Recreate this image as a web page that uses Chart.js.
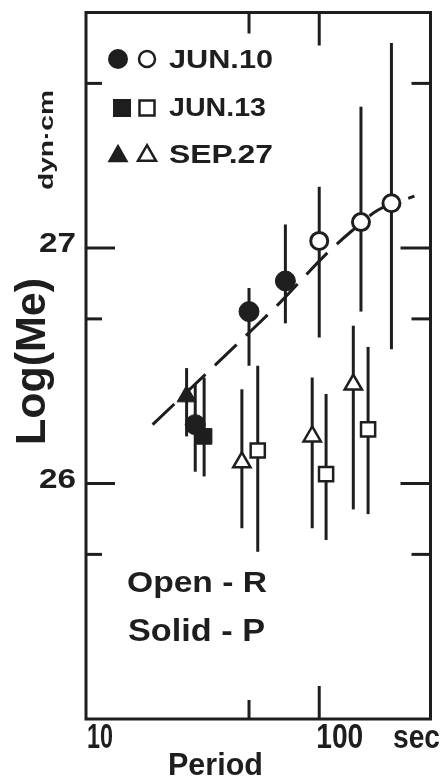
<!DOCTYPE html>
<html>
<head>
<meta charset="utf-8">
<title>Log(Me) vs Period</title>
<script src="https://cdn.jsdelivr.net/npm/chart.js@4.4.0/dist/chart.umd.min.js"></script>
<style>
  html, body { margin: 0; padding: 0; background: #fff; }
  canvas { display: block; }
</style>
</head>
<body>
<canvas id="chart" width="443" height="778"></canvas>
<script>
// Moment estimates log10(Me) [dyn·cm] against period [sec].
// Solid marks come from P, open marks from R.

const jun10SolidPeriod = [29.4, 50, 71.6];
const jun10SolidLogMe = [26.25, 26.73, 26.86];
const jun10SolidLow = [26.05, 26.50, 26.68];
const jun10SolidHigh = [26.42, 26.83, 27.10];

const jun10OpenPeriod = [100, 151, 204];
const jun10OpenLogMe = [27.03, 27.11, 27.19];
const jun10OpenLow = [26.62, 26.73, 26.57];
const jun10OpenHigh = [27.26, 27.60, 27.87];

const jun13SolidPeriod = [32.1];
const jun13SolidLogMe = [26.20];
const jun13SolidLow = [26.03];
const jun13SolidHigh = [26.45];

const jun13OpenPeriod = [54.5, 107, 162];
const jun13OpenLogMe = [26.14, 26.04, 26.23];
const jun13OpenLow = [25.71, 25.76, 25.87];
const jun13OpenHigh = [26.50, 26.38, 26.58];

const sep27SolidPeriod = [27.0];
const sep27SolidLogMe = [26.37];
const sep27SolidLow = [26.20];
const sep27SolidHigh = [26.49];

const sep27OpenPeriod = [46.6, 93.3, 140];
const sep27OpenLogMe = [26.09, 26.20, 26.42];
const sep27OpenLow = [25.81, 25.81, 25.89];
const sep27OpenHigh = [26.40, 26.45, 26.67];

// dashed curve through the JUN.10 estimates
const trendPeriod = [19.3, 47.6, 68.2, 106, 137, 178, 256];
const trendLogMe = [26.25, 26.62, 26.77, 26.97, 27.07, 27.16, 27.22];

// axis ticks and labels
const xMajorTicks = [100];
const xMinorTicks = [50];
const xLabelValues = [10, 100];
const xLabelText = ['10', '100'];
const yMajorTicks = [26, 27];
const yMinorTicks = [25.699, 26.699, 27.699];
const yLabelValues = [26, 27];
const yLabelText = ['26', '27'];

const legendLabels = ['JUN.10', 'JUN.13', 'SEP.27'];
const legendShapes = ['circle', 'rect', 'triangle'];
const noteLines = ['Open - R', 'Solid - P'];

const INK = '#1e1e1e';
const FONT = '"Liberation Sans", Arial, sans-serif';

function toPoints(xs, ys) {
  return xs.map((x, i) => ({ x: x, y: ys[i] }));
}

// Bold text squeezed or stretched to a given width, cap height sets the size
function fittedText(ctx, str, x, y, capHeight, width, align, angle) {
  const size = capHeight / 0.72;
  ctx.save();
  ctx.font = `bold ${size}px ${FONT}`;
  const natural = ctx.measureText(str).width;
  ctx.translate(x, y);
  if (angle) ctx.rotate(angle);
  ctx.scale(width / natural, 1);
  ctx.textAlign = align || 'left';
  ctx.textBaseline = 'alphabetic';
  ctx.fillStyle = INK;
  ctx.fillText(str, 0, 0);
  ctx.restore();
}

function legendMark(ctx, shape, filled, cx, cy, size) {
  ctx.save();
  ctx.beginPath();
  if (shape === 'circle') {
    ctx.arc(cx, cy, size / 2, 0, Math.PI * 2);
  } else if (shape === 'rect') {
    ctx.rect(cx - size / 2, cy - size / 2, size, size);
  } else {
    const h = size * 0.87;
    ctx.moveTo(cx, cy - h / 2);
    ctx.lineTo(cx + size / 2, cy + h / 2);
    ctx.lineTo(cx - size / 2, cy + h / 2);
    ctx.closePath();
  }
  if (filled) {
    ctx.fillStyle = INK;
    ctx.fill();
  } else {
    ctx.fillStyle = '#fff';
    ctx.fill();
    ctx.lineWidth = 2.5;
    ctx.strokeStyle = INK;
    ctx.stroke();
  }
  ctx.restore();
}

const errorSets = [
  [jun10SolidPeriod, jun10SolidLow, jun10SolidHigh],
  [jun10OpenPeriod, jun10OpenLow, jun10OpenHigh],
  [jun13SolidPeriod, jun13SolidLow, jun13SolidHigh],
  [jun13OpenPeriod, jun13OpenLow, jun13OpenHigh],
  [sep27SolidPeriod, sep27SolidLow, sep27SolidHigh],
  [sep27OpenPeriod, sep27OpenLow, sep27OpenHigh]
];

const errorBarsPlugin = {
  id: 'errorBars',
  beforeDatasetsDraw(chart) {
    const { ctx, scales: { x, y } } = chart;
    ctx.save();
    ctx.strokeStyle = INK;
    ctx.lineWidth = 3;
    errorSets.forEach(([periods, lows, highs]) => {
      periods.forEach((p, i) => {
        const px = x.getPixelForValue(p);
        ctx.beginPath();
        ctx.moveTo(px, y.getPixelForValue(lows[i]));
        ctx.lineTo(px, y.getPixelForValue(highs[i]));
        ctx.stroke();
      });
    });
    ctx.restore();
  }
};

const framePlugin = {
  id: 'frame',
  afterDatasetsDraw(chart) {
    const { ctx, chartArea: a, scales: { x, y } } = chart;
    ctx.save();
    ctx.strokeStyle = INK;
    ctx.lineWidth = 3;
    ctx.strokeRect(a.left, a.top, a.right - a.left, a.bottom - a.top);

    // tick marks on all four sides
    const tick = (x1, y1, x2, y2) => {
      ctx.beginPath();
      ctx.moveTo(x1, y1);
      ctx.lineTo(x2, y2);
      ctx.stroke();
    };
    xMajorTicks.forEach(v => {
      const px = x.getPixelForValue(v);
      tick(px, a.bottom, px, a.bottom - 33);
      tick(px, a.top, px, a.top + 33);
    });
    xMinorTicks.forEach(v => {
      const px = x.getPixelForValue(v);
      tick(px, a.bottom, px, a.bottom - 19);
      tick(px, a.top, px, a.top + 21);
    });
    yMajorTicks.forEach(v => {
      const py = y.getPixelForValue(v);
      tick(a.left, py, a.left + 29, py);
      tick(a.right, py, a.right - 30, py);
    });
    yMinorTicks.forEach(v => {
      const py = y.getPixelForValue(v);
      tick(a.left, py, a.left + 16, py);
      tick(a.right, py, a.right - 19, py);
    });
    ctx.restore();

    // tick labels
    xLabelValues.forEach((v, i) => {
      const px = x.getPixelForValue(v);
      fittedText(ctx, xLabelText[i], px + (i === 0 ? 1 : -3), 748, 25, i === 0 ? 26 : 47, 'left');
    });
    fittedText(ctx, 'sec', 393, 748, 24, 47, 'left');
    yLabelValues.forEach((v, i) => {
      const py = y.getPixelForValue(v);
      fittedText(ctx, yLabelText[i], 76, py + 4, 20, 37, 'right');
    });

    // axis titles
    fittedText(ctx, 'Period', 168, 775, 22, 95, 'left');
    fittedText(ctx, 'Log(Me)', 45, 445, 30, 167, 'left', -Math.PI / 2);
    fittedText(ctx, 'dyn·cm', 53, 190, 15, 100, 'left', -Math.PI / 2);

    // legend
    const rowsY = [59, 108, 153];
    const rowsBase = [68, 116, 163];
    legendLabels.forEach((label, i) => {
      const shape = legendShapes[i];
      const solidSize = shape === 'circle' ? 20 : shape === 'rect' ? 18 : 21;
      const openSize = shape === 'circle' ? 16 : shape === 'rect' ? 15 : 18;
      legendMark(ctx, shape, true, shape === 'rect' ? 122 : 118, rowsY[i], solidSize);
      legendMark(ctx, shape, false, 147, rowsY[i], openSize);
      fittedText(ctx, label, 169, rowsBase[i], 18, i === 1 ? 97 : 104, 'left');
    });

    // notes
    fittedText(ctx, noteLines[0], 127, 592, 21, 140, 'left');
    fittedText(ctx, noteLines[1], 128, 641, 22, 137, 'left');
  }
};

const solid = { backgroundColor: INK, borderColor: INK, borderWidth: 1 };
const open = { backgroundColor: '#fff', borderColor: INK, borderWidth: 2.5 };

new Chart(document.getElementById('chart'), {
  type: 'scatter',
  data: {
    datasets: [
      {
        type: 'line',
        label: 'trend',
        data: toPoints(trendPeriod, trendLogMe),
        borderColor: INK,
        borderWidth: 3,
        borderDash: [30, 13],
        pointRadius: 0,
        cubicInterpolationMode: 'monotone',
        fill: false,
        order: 10
      },
      { label: 'JUN.10 P', data: toPoints(jun10SolidPeriod, jun10SolidLogMe), pointStyle: 'circle', pointRadius: 10, ...solid },
      { label: 'JUN.10 R', data: toPoints(jun10OpenPeriod, jun10OpenLogMe), pointStyle: 'circle', pointRadius: 8.5, ...open, borderWidth: 3 },
      { label: 'JUN.13 P', data: toPoints(jun13SolidPeriod, jun13SolidLogMe), pointStyle: 'rect', pointRadius: 11, ...solid },
      { label: 'JUN.13 R', data: toPoints(jun13OpenPeriod, jun13OpenLogMe), pointStyle: 'rect', pointRadius: 10, ...open },
      { label: 'SEP.27 P', data: toPoints(sep27SolidPeriod, sep27SolidLogMe), pointStyle: 'triangle', pointRadius: 11, ...solid },
      { label: 'SEP.27 R', data: toPoints(sep27OpenPeriod, sep27OpenLogMe), pointStyle: 'triangle', pointRadius: 10, ...open }
    ]
  },
  options: {
    responsive: false,
    animation: false,
    devicePixelRatio: 1,
    layout: { padding: { left: 86, right: 10, top: 7, bottom: 59 } },
    scales: {
      x: { type: 'logarithmic', min: 10, max: 300, display: false },
      y: { type: 'linear', min: 25, max: 28, display: false }
    },
    plugins: {
      legend: { display: false },
      tooltip: { enabled: false }
    }
  },
  plugins: [errorBarsPlugin, framePlugin]
});
</script>
</body>
</html>
